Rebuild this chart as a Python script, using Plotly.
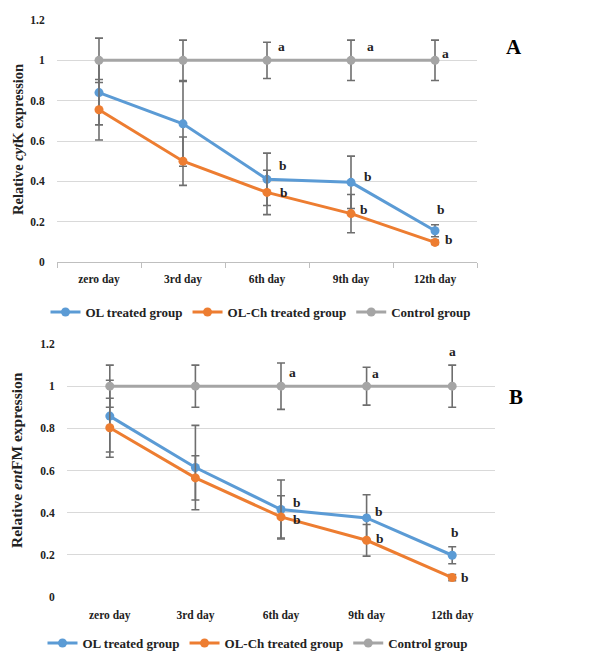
import plotly.graph_objects as go

days = ["zero day", "3rd day", "6th day", "9th day", "12th day"]
series_names = ["OL treated group", "OL-Ch treated group", "Control group"]
colors = ["#5B9BD5", "#ED7D31", "#A5A5A5"]

# Panel A (cytK)
a_ol = [0.84, 0.685, 0.41, 0.395, 0.155]
a_ol_err = [0.16, 0.21, 0.13, 0.13, 0.03]
a_olch = [0.755, 0.50, 0.345, 0.24, 0.097]
a_olch_err = [0.15, 0.12, 0.11, 0.095, 0.01]
a_ctrl = [1.0, 1.0, 1.0, 1.0, 1.0]
a_ctrl_err = [0.11, 0.10, 0.09, 0.10, 0.10]

# Panel B (entFM)
b_ol = [0.858, 0.614, 0.415, 0.375, 0.198]
b_ol_err = [0.17, 0.20, 0.14, 0.11, 0.04]
b_olch = [0.803, 0.565, 0.38, 0.269, 0.092]
b_olch_err = [0.14, 0.105, 0.10, 0.075, 0.015]
b_ctrl = [1.0, 1.0, 1.0, 1.0, 1.0]
b_ctrl_err = [0.10, 0.10, 0.11, 0.09, 0.10]

y_ticks = [0, 0.2, 0.4, 0.6, 0.8, 1, 1.2]
y_tick_text = ["0", "0.2", "0.4", "0.6", "0.8", "1", "1.2"]

# significance letters: (day, y, text, xshift)
a_letters = [("6th day", 1.07, "a", 14), ("9th day", 1.07, "a", 19), ("12th day", 1.035, "a", 10),
             ("6th day", 0.48, "b", 16), ("6th day", 0.344, "b", 17),
             ("9th day", 0.426, "b", 17), ("9th day", 0.26, "b", 13),
             ("12th day", 0.258, "b", 6), ("12th day", 0.112, "b", 14)]
b_letters = [("6th day", 1.064, "a", 11), ("9th day", 1.06, "a", 9), ("12th day", 1.163, "a", 0),
             ("6th day", 0.446, "b", 16), ("6th day", 0.367, "b", 16),
             ("9th day", 0.404, "b", 12), ("9th day", 0.277, "b", 13),
             ("12th day", 0.304, "b", 3), ("12th day", 0.092, "b", 13)]

FONT = "Liberation Serif"
OFF = 8  # page body margin
W, H = 607 - OFF, 651 - OFF
ERR_COLOR = "#6e6e6e"
TXT = "#222222"


def px(x):
    return (x - OFF) / W


def py(y):
    return 1 - (y - OFF) / H


fig = go.Figure()


def add_panel(vals, errs, xa, ya, legend):
    for name, color, v, e in zip(series_names, colors, vals, errs):
        fig.add_trace(go.Scatter(
            x=days, y=v, name=name, mode="lines+markers",
            line=dict(color=color, width=3),
            marker=dict(color=color, size=9),
            error_y=dict(type="data", array=e, visible=True, color=ERR_COLOR, thickness=1.6, width=4),
            xaxis=xa, yaxis=ya, legend=legend,
        ))


add_panel([a_ol, a_olch, a_ctrl], [a_ol_err, a_olch_err, a_ctrl_err], "x", "y", "legend")
add_panel([b_ol, b_olch, b_ctrl], [b_ol_err, b_olch_err, b_ctrl_err], "x2", "y2", "legend2")

tickfont = dict(family=FONT, size=11.5, color=TXT, weight="bold")

axis_common_x = dict(type="category", range=[-0.5, 4.5], tickfont=tickfont, showgrid=False,
                     zeroline=False, fixedrange=True, automargin=False)
axis_common_y = dict(range=[0, 1.2], tickvals=y_ticks, ticktext=y_tick_text, tickfont=tickfont,
                     showgrid=True, gridcolor="#d9d9d9", gridwidth=1, zeroline=False,
                     ticks="outside", ticklen=9, tickcolor="rgba(0,0,0,0)", fixedrange=True,
                     automargin=False)

legend_font = dict(family=FONT, size=13, color=TXT, weight="bold")

fig.update_layout(
    width=W, height=H,
    margin=dict(l=0, r=0, t=0, b=0, autoexpand=False),
    paper_bgcolor="white", plot_bgcolor="white",
    font=dict(family=FONT, color=TXT),
    xaxis=dict(domain=[px(57), px(477)], anchor="y", showline=True, linecolor="#bfbfbf", linewidth=1,
               ticks="outside", tickson="boundaries", ticklen=5, tickcolor="#bfbfbf",
               ticklabelstandoff=6, **axis_common_x),
    yaxis=dict(domain=[py(262), py(20)], anchor="x", **axis_common_y),
    xaxis2=dict(domain=[px(67), px(495)], anchor="y2", showline=False,
                ticks="outside", ticklen=5, tickcolor="rgba(0,0,0,0)", ticklabelstandoff=2,
                **axis_common_x),
    yaxis2=dict(domain=[py(597), py(344)], anchor="x2", **axis_common_y),
    legend=dict(orientation="h", x=px(261), xanchor="center", y=py(312), yanchor="middle",
                font=legend_font, bgcolor="rgba(0,0,0,0)", itemwidth=30, tracegroupgap=0),
    legend2=dict(orientation="h", x=px(258), xanchor="center", y=py(643), yanchor="middle",
                 font=legend_font, bgcolor="rgba(0,0,0,0)", itemwidth=30, tracegroupgap=0),
    showlegend=True,
)

letter_font = dict(family=FONT, size=13.5, color=TXT, weight="bold")
annotations = []
for day, yv, txt, xs in a_letters:
    annotations.append(dict(x=day, y=yv, xref="x", yref="y", text=txt, showarrow=False, xshift=xs,
                            xanchor="center", yanchor="middle", font=letter_font))
for day, yv, txt, xs in b_letters:
    annotations.append(dict(x=day, y=yv, xref="x2", yref="y2", text=txt, showarrow=False, xshift=xs,
                            xanchor="center", yanchor="middle", font=letter_font))

annotations += [
    dict(x=px(18), y=py(140), xref="paper", yref="paper", text="Relative <i>cyt</i>K expression",
         textangle=-90, showarrow=False, xanchor="center", yanchor="middle",
         font=dict(family=FONT, size=14.5, color=TXT, weight="bold")),
    dict(x=px(17), y=py(460), xref="paper", yref="paper", text="Relative <i>ent</i>FM expression",
         textangle=-90, showarrow=False, xanchor="center", yanchor="middle",
         font=dict(family=FONT, size=15.5, color=TXT, weight="bold")),
    dict(x=px(514), y=py(47), xref="paper", yref="paper", text="A", showarrow=False,
         xanchor="center", yanchor="middle",
         font=dict(family=FONT, size=21, color="#000000", weight="bold")),
    dict(x=px(516), y=py(397), xref="paper", yref="paper", text="B", showarrow=False,
         xanchor="center", yanchor="middle",
         font=dict(family=FONT, size=21, color="#000000", weight="bold")),
]
fig.update_layout(annotations=annotations)

fig.write_html("out.html")
